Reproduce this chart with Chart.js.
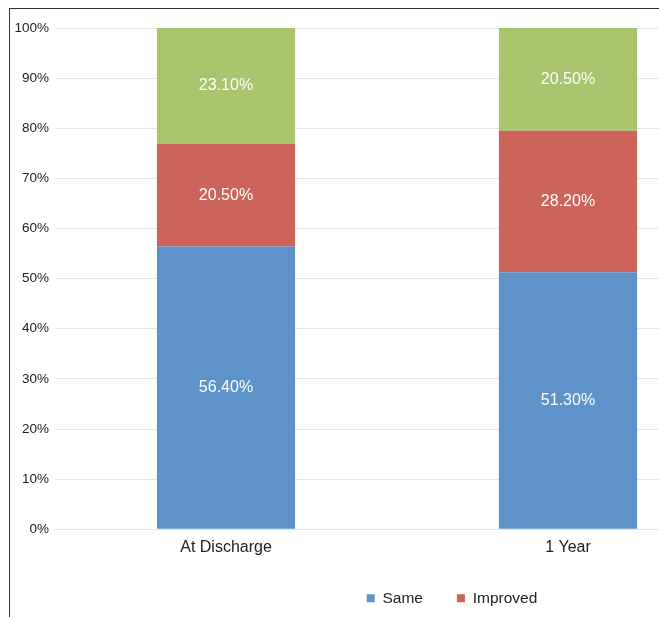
<!DOCTYPE html>
<html>
<head>
<meta charset="utf-8">
<script src="https://cdn.jsdelivr.net/npm/chart.js@4.4.1/dist/chart.umd.min.js"></script>
<style>
  html, body { margin: 0; padding: 0; background: #fff; }
  #view { position: absolute; left: 0; top: 0; width: 659px; height: 617px; overflow: hidden; }
  #frame { position: absolute; left: 9px; top: 8px; width: 900px; height: 620px;
           border-left: 1.5px solid #333; border-top: 1.5px solid #333; }
  #box { position: absolute; left: 1px; top: 1px; width: 884px; height: 608px; }
</style>
</head>
<body>
<div id="view">
  <div id="frame">
    <div id="box"><canvas id="chart"></canvas></div>
  </div>
</div>
<script>
// categories and stacked series (percent)
const categories = ["At Discharge", "1 Year"];
const sameValues = [56.4, 51.3];
const improvedValues = [20.5, 28.2];
const worseValues = [23.1, 20.5];
const yTicks = [0, 10, 20, 30, 40, 50, 60, 70, 80, 90, 100];

// white value labels in the middle of each segment
const segmentLabels = {
  id: "segmentLabels",
  afterDatasetsDraw(chart) {
    const { ctx } = chart;
    ctx.save();
    ctx.fillStyle = "#ffffff";
    ctx.font = "16px 'Liberation Sans', Arial, sans-serif";
    ctx.textAlign = "center";
    ctx.textBaseline = "middle";
    chart.data.datasets.forEach((ds, i) => {
      chart.getDatasetMeta(i).data.forEach((bar, j) => {
        const mid = (bar.y + bar.base) / 2;
        ctx.fillText(ds.data[j].toFixed(2) + "%", bar.x, mid);
      });
    });
    ctx.restore();
  }
};

// the original legend sits centred under a wider figure than the plot, nudge it over
const legendShift = {
  id: "legendShift",
  afterLayout(chart) {
    const l = chart.legend;
    if (!l) return;
    l.left += 77; l.right += 77;
    l.top -= 2; l.bottom -= 2;
  }
};

const ctx = document.getElementById("chart").getContext("2d");
new Chart(ctx, {
  type: "bar",
  data: {
    labels: categories,
    datasets: [
      { label: "Same", data: sameValues, backgroundColor: "#5d93c9" },
      { label: "Improved", data: improvedValues, backgroundColor: "#cc645b" },
      { label: "Worse", data: worseValues, backgroundColor: "#a8c46c" }
    ]
  },
  options: {
    responsive: true,
    maintainAspectRatio: false,
    animation: false,
    categoryPercentage: 1,
    barPercentage: 0.404,
    layout: { padding: { left: 0, right: 156, top: 18, bottom: 0 } },
    plugins: {
      tooltip: { enabled: false },
      legend: {
        position: "bottom",
        labels: {
          boxWidth: 8,
          boxHeight: 8,
          padding: 34,
          color: "#222",
          font: { family: "'Liberation Sans', Arial, sans-serif", size: 15.5 },
          filter: item => item.text !== "Worse"
        }
      }
    },
    scales: {
      x: {
        stacked: true,
        grid: { display: false },
        border: { display: false },
        ticks: {
          color: "#222",
          padding: 1,
          font: { family: "'Liberation Sans', Arial, sans-serif", size: 16 }
        }
      },
      y: {
        stacked: true,
        min: 0,
        max: 100,
        afterFit: s => { s.width = 44; },
        afterBuildTicks: s => { s.ticks = yTicks.map(v => ({ value: v })); },
        grid: { color: "#e6e6e6", drawTicks: false },
        border: { display: false },
        ticks: {
          color: "#222",
          padding: 6,
          font: { family: "'Liberation Sans', Arial, sans-serif", size: 13.5 },
          callback: v => v + "%"
        }
      }
    }
  },
  plugins: [segmentLabels, legendShift]
});
</script>
</body>
</html>
